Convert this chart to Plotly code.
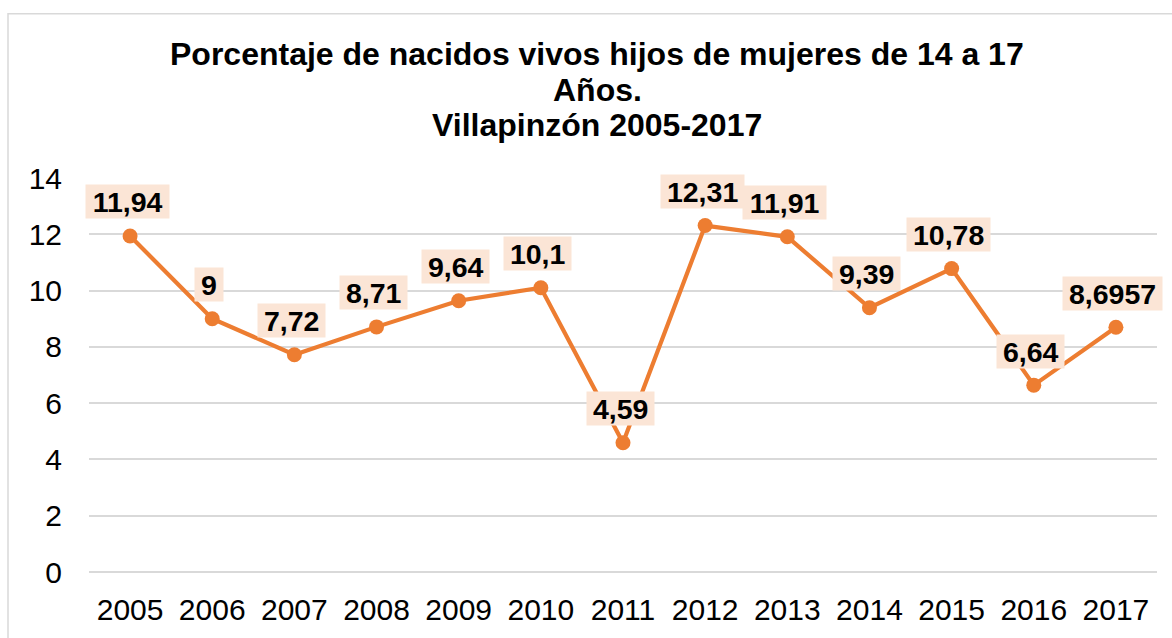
import plotly.graph_objects as go

years = ["2005", "2006", "2007", "2008", "2009", "2010", "2011",
         "2012", "2013", "2014", "2015", "2016", "2017"]
values = [11.94, 9, 7.72, 8.71, 9.64, 10.1, 4.59,
          12.31, 11.91, 9.39, 10.78, 6.64, 8.6957]
y_ticks = [0, 2, 4, 6, 8, 10, 12, 14]
title_lines = ["Porcentaje de nacidos vivos hijos de mujeres de 14 a 17",
               "Años.",
               "Villapinzón 2005-2017"]

FONT = "Arial, Liberation Sans, sans-serif"
ORANGE = "#ED7D31"
LABEL_BG = "#FBE5D6"
GRID = "#D9D9D9"

W, H = 1172, 638
ML, MR, MT, MB = 89, 15, 178, 64
PW = W - ML - MR
PH = H - MT - MB


def px_to_paper_x(px):
    return (px - ML) / PW


def px_to_paper_y(py):
    return (H - MB - py) / PH


def label_text(v):
    return f"{v:g}".replace(".", ",")


def label_width(s, size=28.5):
    em = sum(0.278 if ch == "," else 0.556 for ch in s)
    return em * size + 12


fig = go.Figure()
fig.add_trace(go.Scatter(
    x=years, y=values, mode="lines+markers",
    line=dict(color=ORANGE, width=4.2),
    marker=dict(color=ORANGE, size=15),
    hoverinfo="x+y", showlegend=False,
))

annotations = []
for i, v in enumerate(values):
    t = label_text(v)
    annotations.append(dict(
        x=i, y=v, xref="x", yref="y", text="<b>" + t + "</b>",
        showarrow=False, yshift=34, xshift=-3,
        font=dict(family=FONT, size=28.5, color="#000000"),
        bgcolor=LABEL_BG, borderpad=0,
        width=label_width(t), height=33,
        align="center", valign="middle",
    ))

# title lines (centres in pixels)
for line, cy in zip(title_lines, [53, 90, 125]):
    annotations.append(dict(
        x=px_to_paper_x(597), y=px_to_paper_y(cy), xref="paper", yref="paper",
        text="<b>" + line + "</b>", showarrow=False,
        xanchor="center", yanchor="middle",
        font=dict(family=FONT, size=32, color="#000000"),
    ))

fig.update_layout(
    width=W, height=H,
    margin=dict(l=ML, r=MR, t=MT, b=MB, pad=0),
    paper_bgcolor="white", plot_bgcolor="white",
    font=dict(family=FONT, color="#000000"),
    xaxis=dict(
        type="category", range=[-0.5, len(years) - 0.5],
        showgrid=False, zeroline=False, showline=False, ticks="",
        tickfont=dict(family=FONT, size=30, color="#000000"),
        ticklabelstandoff=17,
    ),
    yaxis=dict(
        range=[0, 14], tickvals=y_ticks,
        showgrid=True, gridcolor=GRID, gridwidth=1.5,
        zeroline=True, zerolinecolor=GRID, zerolinewidth=1.5,
        showline=False, ticks="",
        tickfont=dict(family=FONT, size=30, color="#000000"),
        ticklabelstandoff=26,
    ),
    annotations=annotations,
    shapes=[dict(
        type="rect", xref="paper", yref="paper",
        x0=px_to_paper_x(8), x1=px_to_paper_x(1185),
        y0=px_to_paper_y(660), y1=px_to_paper_y(13),
        line=dict(color=GRID, width=1.5), fillcolor="rgba(0,0,0,0)",
        layer="below",
    )],
)

fig.write_html("out.html", config={"displayModeBar": False},
               post_script="document.body.style.margin='0';")
